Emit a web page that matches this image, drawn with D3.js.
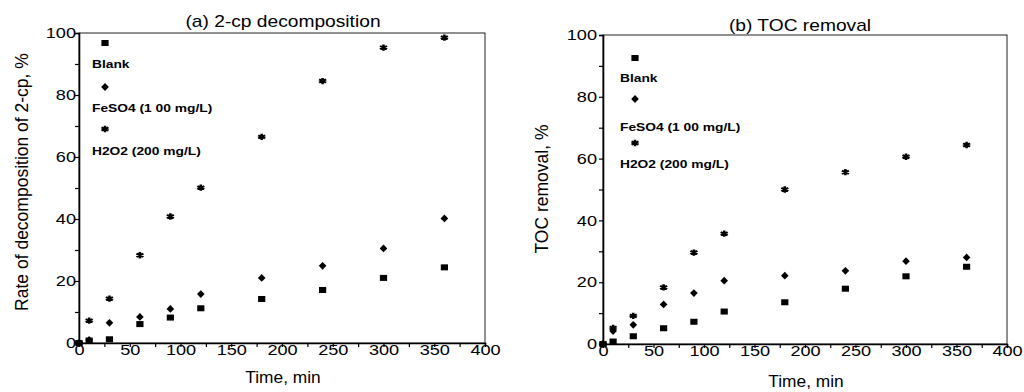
<!DOCTYPE html>
<html>
<head>
<meta charset="utf-8">
<script src="https://cdn.jsdelivr.net/npm/d3@7"></script>
<style>
  body { margin: 0; background: #fff; }
  svg { display: block; font-family: Arial, "Liberation Sans", Helvetica, sans-serif; }
</style>
</head>
<body>
<svg id="chart" width="1024" height="392"></svg>
<script>
// Data
const times = [0, 10, 30, 60, 90, 120, 180, 240, 300, 360];

const cpBlank = [0, 0.8, 1.2, 6.1, 8.2, 11.2, 14.2, 17.1, 21, 24.4];
const cpFeSO4 = [0, 1, 6.5, 8.4, 11, 15.8, 21, 24.9, 30.5, 40.2];
const cpH2O2 = [0, 7.2, 14.3, 28.3, 40.8, 50.1, 66.5, 84.5, 95.3, 98.5];

const tocBlank = [0, 0.8, 2.5, 5.1, 7.2, 10.5, 13.5, 17.9, 21.9, 25];
const tocFeSO4 = [0, 4.2, 6.2, 12.8, 16.5, 20.5, 22.1, 23.7, 26.8, 28];
const tocH2O2 = [0, 5.2, 9.1, 18.3, 29.6, 35.7, 50, 55.6, 60.6, 64.4];

const legendLabels = ["Blank", "FeSO4 (1 00 mg/L)", "H2O2 (200 mg/L)"];
const xTicks = [0, 50, 100, 150, 200, 250, 300, 350, 400];
const yTicks = [0, 20, 40, 60, 80, 100];

const svg = d3.select("#chart");

// marker drawers: square, diamond, asterisk
function drawMarker(g, kind, x, y) {
  if (kind === 0) {
    g.append("rect")
      .attr("x", x - 3.6).attr("y", y - 3)
      .attr("width", 7.2).attr("height", 6)
      .attr("fill", "#000");
  } else if (kind === 1) {
    g.append("path")
      .attr("d", d3.symbol(d3.symbolDiamond, 24)())
      .attr("transform", `translate(${x},${y}) scale(1.45,0.85)`)
      .attr("fill", "#000");
  } else {
    g.append("path")
      .attr("d", d3.symbol(d3.symbolAsterisk, 34)())
      .attr("transform", `translate(${x},${y}) scale(1.15,0.9)`)
      .attr("fill", "none")
      .attr("stroke", "#000")
      .attr("stroke-width", 2.2);
  }
}

function createPanel(opt) {
  const g = svg.append("g");
  const xScale = d3.scaleLinear().domain([0, 400]).range([opt.left, opt.right]);
  const yScale = d3.scaleLinear().domain([0, 100]).range([opt.bottom, opt.top]);

  // frame (top and right edges are thin)
  g.append("rect")
    .attr("x", opt.left).attr("y", opt.top)
    .attr("width", opt.right - opt.left).attr("height", opt.bottom - opt.top)
    .attr("fill", "none").attr("stroke", "#222").attr("stroke-width", 1);

  // x axis with minor ticks every 25
  const xAxis = g.append("g")
    .attr("transform", `translate(0,${opt.bottom})`)
    .call(d3.axisBottom(xScale).tickValues(d3.range(0, 401, 25)).tickSize(4).tickPadding(-2)
      .tickFormat(d => xTicks.includes(d) ? d : ""));
  xAxis.select(".domain").attr("stroke-width", 1.6).attr("stroke", "#000");
  xAxis.selectAll(".tick line").attr("stroke-width", 1.2);
  xAxis.selectAll(".tick text")
    .style("font-size", "14.5px")
    .attr("transform", "scale(1.25,1)")
    .attr("fill", "#000");

  // y axis with minor ticks every 10
  const yAxis = g.append("g")
    .attr("transform", `translate(${opt.left},0)`)
    .call(d3.axisLeft(yScale).tickValues(d3.range(0, 101, 10)).tickSize(4).tickPadding(0)
      .tickFormat(d => yTicks.includes(d) ? d : ""));
  yAxis.select(".domain").attr("stroke-width", 1.6).attr("stroke", "#000");
  yAxis.selectAll(".tick line").attr("stroke-width", 1.2);
  yAxis.selectAll(".tick text")
    .style("font-size", "14.5px")
    .attr("x", -opt.labelGap / 1.25)
    .attr("transform", "scale(1.25,1)")
    .attr("fill", "#000");

  // title
  g.append("text")
    .attr("transform", `translate(${opt.titleX},${opt.titleY}) scale(1.2,1)`)
    .attr("text-anchor", "middle")
    .style("font-size", "16px")
    .text(opt.title);

  // axis labels
  g.append("text")
    .attr("transform", `translate(${opt.xLabelX},${opt.xLabelY}) scale(1.05,1)`)
    .attr("text-anchor", "middle")
    .style("font-size", "16.5px")
    .text("Time, min");

  g.append("text")
    .attr("transform", `translate(${opt.yLabelX},${opt.yLabelY}) rotate(-90)`)
    .attr("text-anchor", "middle")
    .style("font-size", "17.5px")
    .text(opt.yLabel);

  // data points
  opt.series.forEach((vals, k) => {
    vals.forEach((v, i) => drawMarker(g, k, xScale(times[i]), yScale(v)));
  });

  // legend
  const lg = opt.legend;
  legendLabels.forEach((label, k) => {
    drawMarker(g, k, lg.markerX, lg.markerY[k]);
    g.append("text")
      .attr("transform", `translate(${lg.textX},${lg.textY[k]}) scale(1.2,1)`)
      .style("font-size", "11.5px")
      .style("font-weight", "bold")
      .text(label);
  });

  return { g, xScale, yScale };
}

createPanel({
  left: 79, right: 485, top: 33, bottom: 343, labelGap: 3,
  title: "(a) 2-cp decomposition", titleX: 283, titleY: 27,
  xLabelX: 283, xLabelY: 383,
  yLabel: "Rate of decomposition of 2-cp, %", yLabelX: 28, yLabelY: 182,
  series: [cpBlank, cpFeSO4, cpH2O2],
  legend: { markerX: 105, markerY: [43, 87, 129], textX: 92, textY: [68, 112, 155] }
});

createPanel({
  left: 603, right: 1007, top: 35, bottom: 344, labelGap: 6,
  title: "(b) TOC removal", titleX: 800, titleY: 31,
  xLabelX: 806, xLabelY: 387,
  yLabel: "TOC removal, %", yLabelX: 548, yLabelY: 189,
  series: [tocBlank, tocFeSO4, tocH2O2],
  legend: { markerX: 635, markerY: [58, 99, 143], textX: 620, textY: [82, 131, 168] }
});
</script>
</body>
</html>
